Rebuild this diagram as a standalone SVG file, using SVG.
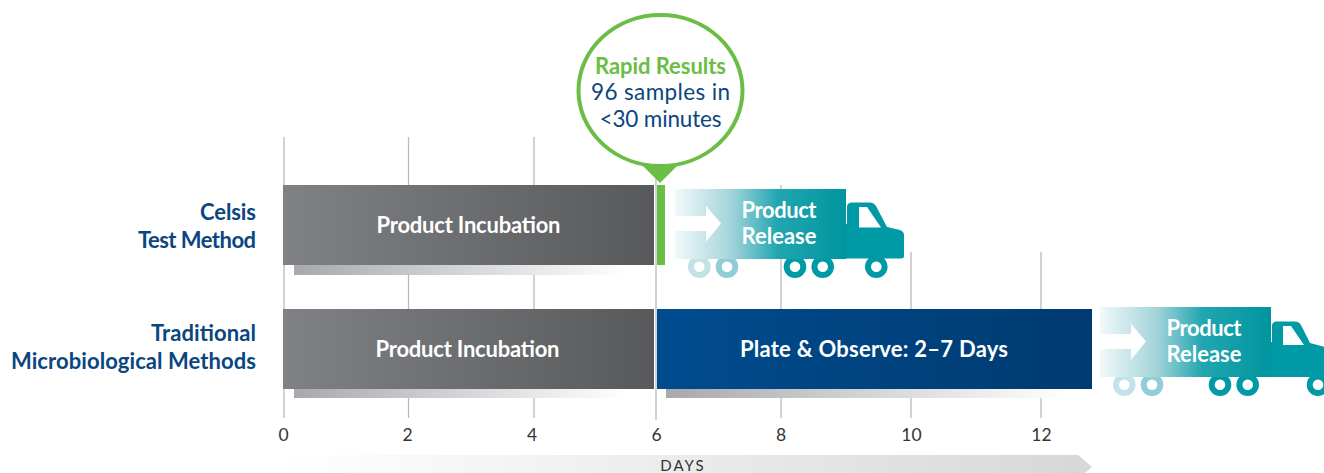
<svg xmlns="http://www.w3.org/2000/svg" width="1324" height="473" viewBox="0 0 1324 473">
<style>
text{font-family:"Lato","Open Sans","Liberation Sans",sans-serif}
.grid{stroke:#b8babd;stroke-width:1.3;fill:none}
.label{font-size:22px;font-weight:700;fill:#0a4680;text-anchor:end}
.bar{font-size:22px;font-weight:700;fill:#fff;text-anchor:middle}
.rel{font-size:22px;font-weight:700;fill:#fff}
.tick{font-size:17.500px;fill:#333;text-anchor:middle}
.w{fill:none;stroke-width:6}
</style>
<defs>
<linearGradient id="grey"><stop offset="0" stop-color="#808184"/><stop offset="1" stop-color="#58595b"/></linearGradient>
<linearGradient id="blue"><stop offset="0" stop-color="#004c8f"/><stop offset="1" stop-color="#003a70"/></linearGradient>
<linearGradient id="shadow"><stop offset="0" stop-color="#a7a9ac"/><stop offset="1" stop-color="#fff"/></linearGradient>
<linearGradient id="teal"><stop offset="0" stop-color="#f2f9fa"/><stop offset="0.33" stop-color="#a3d4da"/><stop offset="0.6" stop-color="#21a6b0"/><stop offset="1" stop-color="#00959f"/></linearGradient>
<linearGradient id="days"><stop offset="0" stop-color="#fff"/><stop offset="1" stop-color="#d6d7d9"/></linearGradient>
<g id="box">
<rect x="0" y="0" width="171" height="70" fill="url(#teal)"/>
<path d="M0 27H31V16.700L46 34.500L31 52.700V42H0Z" fill="#fff"/>
<text class="rel" x="66.500" y="29" textLength="75">Product</text>
<text class="rel" x="66.500" y="55" textLength="75">Release</text>
</g>
</defs>
<g id="connectors">
<path class="grid" d="M284 137V418M408.500 137V418M534 137V418M656 137V420M781 185V418M911 252V418M1041 252V418"/>
</g>
<g id="days-axis">
<path d="M285 455H1078L1092 467L1078 479H285Z" fill="url(#days)"/>
<text x="683" y="471" font-size="15" letter-spacing="2" fill="#333" text-anchor="middle">DAYS</text>
</g>
<g id="ticks">
<text class="tick" x="283.500" y="441">0</text>
<text class="tick" x="407.700" y="441">2</text>
<text class="tick" x="532" y="441">4</text>
<text class="tick" x="656.700" y="441">6</text>
<text class="tick" x="781" y="441">8</text>
<text class="tick" x="911.500" y="441">10</text>
<text class="tick" x="1041.500" y="441">12</text>
</g>
<g id="celsis-label">
<text class="label" x="256" y="220" textLength="56">Celsis</text>
<text class="label" x="256" y="248" textLength="118">Test Method</text>
</g>
<g id="traditional-label">
<text class="label" x="256" y="341" textLength="105">Traditional</text>
<text class="label" x="256" y="369" textLength="245">Microbiological Methods</text>
</g>
<g id="celsis-incubation">
<rect x="294" y="265" width="332" height="10" fill="url(#shadow)"/>
<rect x="283" y="185" width="371" height="80" fill="url(#grey)"/>
<text class="bar" x="468.500" y="233" textLength="184">Product Incubation</text>
</g>
<g id="rapid-bar"><rect x="657" y="185" width="8" height="80" fill="#6abd45"/></g>
<g id="celsis-truck">
<circle class="w" cx="699.300" cy="266.700" r="8.300" stroke="#c3e2e7"/>
<circle class="w" cx="727" cy="266.700" r="8.300" stroke="#90cdd6"/>
<circle class="w" cx="795" cy="266.700" r="8.300" stroke="#009aa6"/>
<circle class="w" cx="822.700" cy="266.700" r="8.300" stroke="#009aa6"/>
<circle class="w" cx="876.300" cy="266.700" r="8.300" stroke="#009aa6"/>
<use href="#box" x="675" y="189"/>
<path d="M847 224V207Q847 202.500 852 202.500H870Q874 202.500 876 206L887 227L900 230Q904 231.500 904 235V256Q904 258.500 901 258.500H846V224Z" fill="#009aa6"/>
<path d="M859 207H867L881 227.500H859Z" fill="#fff"/>
</g>
<g id="traditional-incubation">
<rect x="294" y="389" width="332" height="9" fill="url(#shadow)"/>
<rect x="283" y="309" width="371" height="80" fill="url(#grey)"/>
<text class="bar" x="467.500" y="357" textLength="184">Product Incubation</text>
</g>
<g id="plate-observe">
<rect x="666" y="389" width="402" height="9" fill="url(#shadow)"/>
<rect x="657" y="309" width="435" height="80" fill="url(#blue)"/>
<text class="bar" x="874" y="357" textLength="268">Plate &amp; Observe: 2–7 Days</text>
</g>
<g id="traditional-truck">
<circle class="w" cx="1124.300" cy="384.700" r="8.300" stroke="#c3e2e7"/>
<circle class="w" cx="1152" cy="384.700" r="8.300" stroke="#90cdd6"/>
<circle class="w" cx="1220" cy="384.700" r="8.300" stroke="#009aa6"/>
<circle class="w" cx="1247.700" cy="384.700" r="8.300" stroke="#009aa6"/>
<circle class="w" cx="1318" cy="384.700" r="8.300" stroke="#009aa6"/>
<use href="#box" x="1100" y="307"/>
<path d="M1272 342V326Q1272 321.500 1277 321.500H1295Q1299 321.500 1301 325L1310 343L1325 347V377H1271V342Z" fill="#009aa6"/>
<path d="M1283 326H1291L1304 345H1283Z" fill="#fff"/>
</g>
<g id="rapid-bubble">
<ellipse cx="660.500" cy="90.500" rx="82" ry="75.500" fill="#fff" stroke="#6abd45" stroke-width="4"/>
<path d="M643 166H677L660 183Z" fill="#6abd45"/>
<text x="660.500" y="74" font-size="22" font-weight="700" fill="#6abd45" text-anchor="middle" textLength="131">Rapid Results</text>
<text x="660.500" y="100" font-size="22.500" fill="#0a4680" text-anchor="middle" textLength="139">96 samples in</text>
<text x="660.500" y="127" font-size="22.500" fill="#0a4680" text-anchor="middle" textLength="122">&lt;30 minutes</text>
</g>
</svg>
